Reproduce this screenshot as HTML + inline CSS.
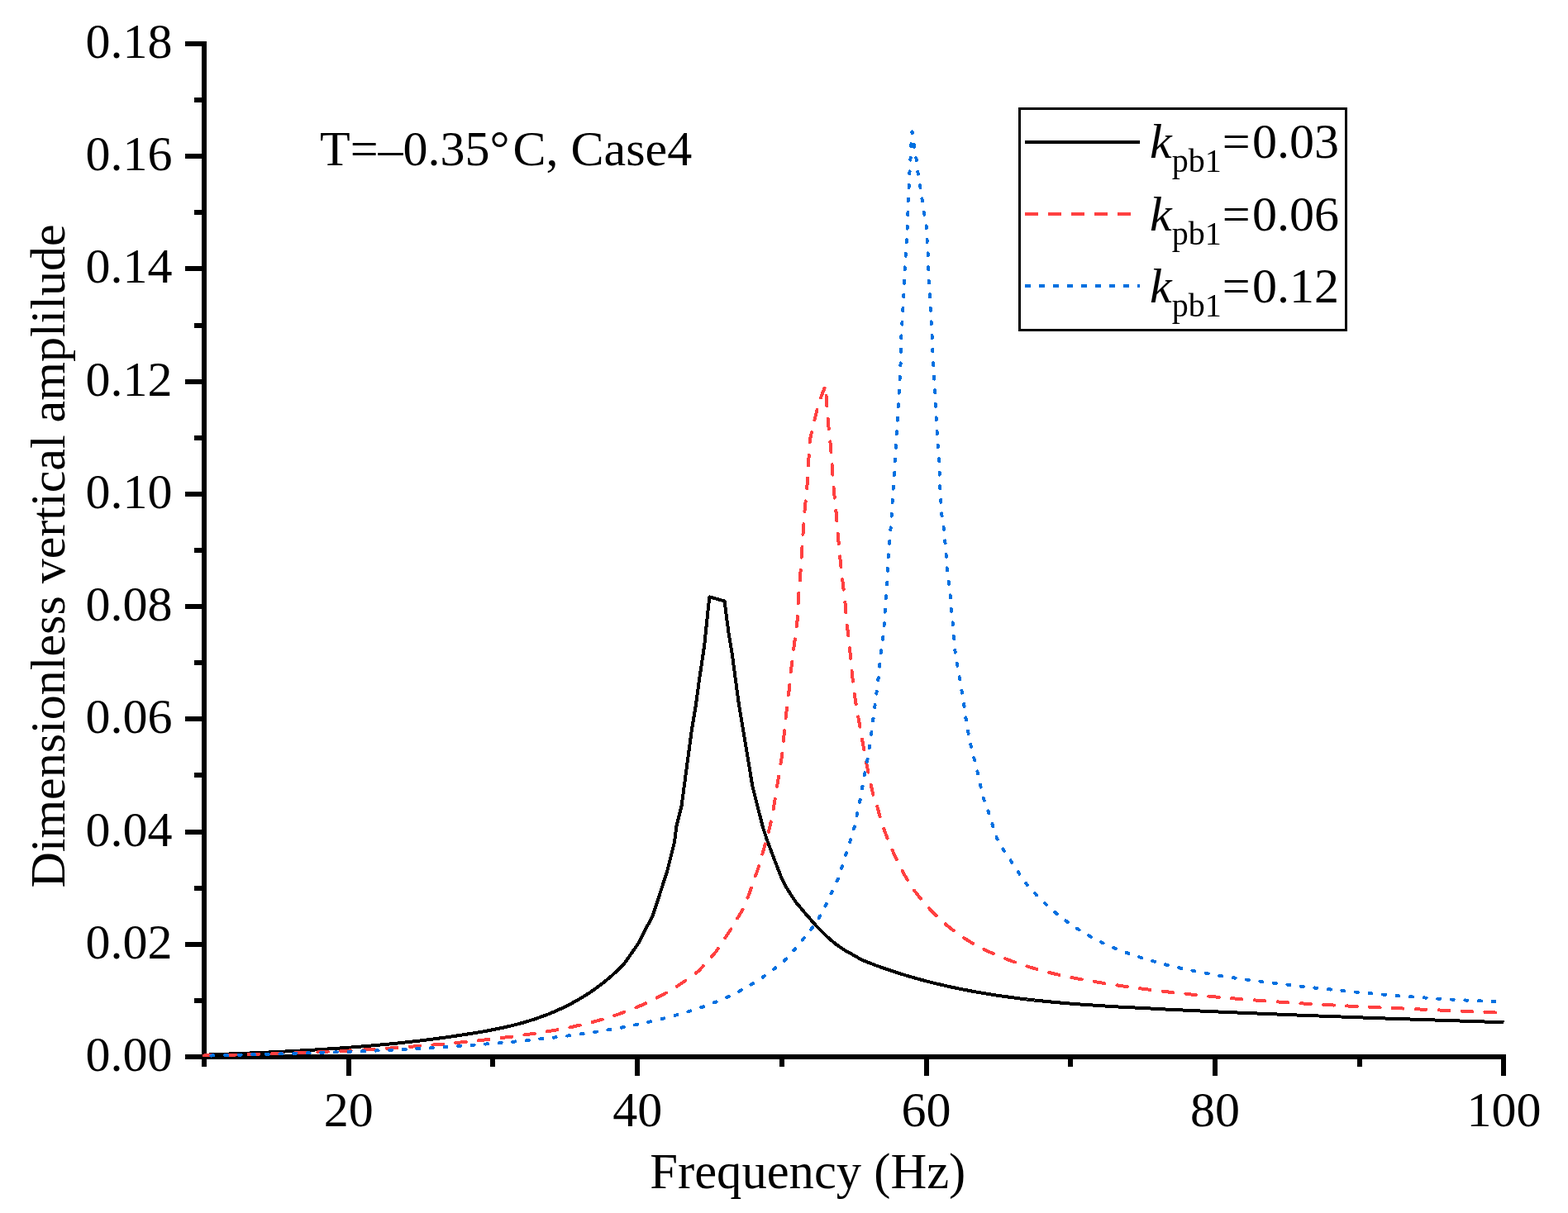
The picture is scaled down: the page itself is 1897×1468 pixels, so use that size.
<!DOCTYPE html>
<html><head><meta charset="utf-8"><title>Frequency response</title>
<style>html,body{margin:0;padding:0;background:#fff;}svg{display:block;}</style>
</head><body>
<svg width="1897" height="1468" viewBox="0 0 1897 1468"><rect x="244" y="50" width="6" height="1232" fill="#000"/>
<rect x="244" y="1276" width="1578" height="6" fill="#000"/>
<rect x="224" y="1276" width="20" height="6" fill="#000"/>
<text x="208.5" y="1296.0" text-anchor="end" font-family="'Liberation Serif', 'Times New Roman', serif" font-size="60">0.00</text>
<rect x="235" y="1208" width="9" height="6" fill="#000"/>
<rect x="224" y="1140" width="20" height="6" fill="#000"/>
<text x="208.5" y="1159.8" text-anchor="end" font-family="'Liberation Serif', 'Times New Roman', serif" font-size="60">0.02</text>
<rect x="235" y="1072" width="9" height="6" fill="#000"/>
<rect x="224" y="1004" width="20" height="6" fill="#000"/>
<text x="208.5" y="1023.6" text-anchor="end" font-family="'Liberation Serif', 'Times New Roman', serif" font-size="60">0.04</text>
<rect x="235" y="935" width="9" height="6" fill="#000"/>
<rect x="224" y="867" width="20" height="6" fill="#000"/>
<text x="208.5" y="887.3" text-anchor="end" font-family="'Liberation Serif', 'Times New Roman', serif" font-size="60">0.06</text>
<rect x="235" y="799" width="9" height="6" fill="#000"/>
<rect x="224" y="731" width="20" height="6" fill="#000"/>
<text x="208.5" y="751.1" text-anchor="end" font-family="'Liberation Serif', 'Times New Roman', serif" font-size="60">0.08</text>
<rect x="235" y="663" width="9" height="6" fill="#000"/>
<rect x="224" y="595" width="20" height="6" fill="#000"/>
<text x="208.5" y="614.9" text-anchor="end" font-family="'Liberation Serif', 'Times New Roman', serif" font-size="60">0.10</text>
<rect x="235" y="527" width="9" height="6" fill="#000"/>
<rect x="224" y="459" width="20" height="6" fill="#000"/>
<text x="208.5" y="478.7" text-anchor="end" font-family="'Liberation Serif', 'Times New Roman', serif" font-size="60">0.12</text>
<rect x="235" y="391" width="9" height="6" fill="#000"/>
<rect x="224" y="322" width="20" height="6" fill="#000"/>
<text x="208.5" y="342.4" text-anchor="end" font-family="'Liberation Serif', 'Times New Roman', serif" font-size="60">0.14</text>
<rect x="235" y="254" width="9" height="6" fill="#000"/>
<rect x="224" y="186" width="20" height="6" fill="#000"/>
<text x="208.5" y="206.2" text-anchor="end" font-family="'Liberation Serif', 'Times New Roman', serif" font-size="60">0.16</text>
<rect x="235" y="118" width="9" height="6" fill="#000"/>
<rect x="224" y="50" width="20" height="6" fill="#000"/>
<text x="208.5" y="70.0" text-anchor="end" font-family="'Liberation Serif', 'Times New Roman', serif" font-size="60">0.18</text>
<rect x="244" y="1282" width="6" height="9" fill="#000"/>
<rect x="419" y="1282" width="6" height="20" fill="#000"/>
<text x="421.7" y="1363" text-anchor="middle" font-family="'Liberation Serif', 'Times New Roman', serif" font-size="60">20</text>
<rect x="593" y="1282" width="6" height="9" fill="#000"/>
<rect x="768" y="1282" width="6" height="20" fill="#000"/>
<text x="771.2" y="1363" text-anchor="middle" font-family="'Liberation Serif', 'Times New Roman', serif" font-size="60">40</text>
<rect x="943" y="1282" width="6" height="9" fill="#000"/>
<rect x="1118" y="1282" width="6" height="20" fill="#000"/>
<text x="1120.6" y="1363" text-anchor="middle" font-family="'Liberation Serif', 'Times New Roman', serif" font-size="60">60</text>
<rect x="1292" y="1282" width="6" height="9" fill="#000"/>
<rect x="1467" y="1282" width="6" height="20" fill="#000"/>
<text x="1470.1" y="1363" text-anchor="middle" font-family="'Liberation Serif', 'Times New Roman', serif" font-size="60">80</text>
<rect x="1642" y="1282" width="6" height="9" fill="#000"/>
<rect x="1816" y="1282" width="6" height="20" fill="#000"/>
<text x="1819.5" y="1363" text-anchor="middle" font-family="'Liberation Serif', 'Times New Roman', serif" font-size="60">100</text>
<polyline points="247.0,1276.7 250.0,1276.6 253.0,1276.5 256.0,1276.4 259.0,1276.3 261.9,1276.2 264.9,1276.0 267.9,1275.9 270.9,1275.8 273.9,1275.7 276.9,1275.5 279.9,1275.4 282.9,1275.3 285.9,1275.2 288.8,1275.1 291.8,1274.9 294.8,1274.8 297.8,1274.7 300.8,1274.6 303.8,1274.4 306.8,1274.3 309.8,1274.2 312.8,1274.0 315.7,1273.9 318.7,1273.8 321.7,1273.6 324.7,1273.5 327.7,1273.3 330.7,1273.2 333.7,1273.1 336.7,1272.9 339.7,1272.8 342.6,1272.6 345.6,1272.5 348.6,1272.3 351.6,1272.1 354.6,1272.0 357.6,1271.8 360.6,1271.7 363.6,1271.5 366.6,1271.3 369.5,1271.2 372.5,1271.0 375.5,1270.8 378.5,1270.6 381.5,1270.5 384.5,1270.3 387.5,1270.1 390.5,1269.9 393.5,1269.7 396.4,1269.5 399.4,1269.3 402.4,1269.1 405.4,1268.9 408.4,1268.7 411.4,1268.5 414.4,1268.3 417.4,1268.1 420.4,1267.8 423.3,1267.6 426.3,1267.4 429.3,1267.1 432.3,1266.9 435.3,1266.7 438.3,1266.4 441.3,1266.2 444.3,1265.9 447.3,1265.7 450.2,1265.4 453.2,1265.1 456.2,1264.9 459.2,1264.6 462.2,1264.3 465.2,1264.0 468.2,1263.8 471.2,1263.5 474.2,1263.2 477.1,1262.9 480.1,1262.6 483.1,1262.3 486.1,1261.9 489.1,1261.6 492.1,1261.3 495.1,1261.0 498.1,1260.6 501.0,1260.3 504.0,1259.9 507.0,1259.6 510.0,1259.2 513.0,1258.9 516.0,1258.5 519.0,1258.1 522.0,1257.7 525.0,1257.4 527.9,1257.0 530.9,1256.6 533.9,1256.2 536.9,1255.8 539.9,1255.4 542.9,1254.9 545.9,1254.5 548.9,1254.1 551.9,1253.6 554.8,1253.2 557.8,1252.7 560.8,1252.3 563.8,1251.8 566.8,1251.3 569.8,1250.9 572.8,1250.4 575.8,1249.9 578.8,1249.4 581.7,1248.9 584.7,1248.4 587.7,1247.8 590.7,1247.3 593.7,1246.7 596.7,1246.1 599.7,1245.5 602.7,1244.9 605.7,1244.3 608.6,1243.7 611.6,1243.0 614.6,1242.3 617.6,1241.6 620.6,1240.9 623.6,1240.1 626.6,1239.3 629.6,1238.5 632.6,1237.7 635.5,1236.8 638.5,1235.9 641.5,1235.0 644.5,1234.1 647.5,1233.1 650.5,1232.1 653.5,1231.0 656.5,1229.9 659.5,1228.8 662.4,1227.7 665.4,1226.5 668.4,1225.2 671.4,1224.0 674.4,1222.6 677.4,1221.3 680.4,1219.9 683.4,1218.4 686.4,1217.0 689.3,1215.4 692.3,1213.9 695.3,1212.2 698.3,1210.6 701.3,1208.8 704.3,1207.1 707.3,1205.2 710.3,1203.3 713.3,1201.4 716.2,1199.4 719.2,1197.3 722.2,1195.1 725.2,1192.9 728.2,1190.6 731.2,1188.3 734.2,1185.8 737.2,1183.3 740.2,1180.7 743.1,1178.0 746.1,1175.3 749.1,1172.4 752.1,1169.5 755.1,1166.4 771.5,1143.0 789.9,1107.7 806.8,1055.6 816.0,1018.8 818.4,1000.0 824.5,975.8 828.6,945.2 832.7,914.5 836.8,883.9 841.9,853.2 846.0,822.6 852.1,781.7 858.3,722.4 876.5,727.4 881.7,767.4 885.8,791.9 889.9,822.6 894.0,853.2 898.1,877.8 902.2,902.3 906.3,926.8 910.3,951.3 916.5,975.8 922.6,1000.0 927.5,1015.2 936.0,1038.1 944.9,1060.9 952.3,1075.6 962.9,1092.0 976.8,1108.3 988.3,1121.4 1000.5,1133.5 1010.5,1142.1 1021.1,1149.5 1031.6,1155.3 1042.2,1161.5 1045.2,1162.7 1048.2,1163.9 1051.2,1165.1 1054.2,1166.2 1057.1,1167.4 1060.1,1168.5 1063.1,1169.6 1066.1,1170.6 1069.1,1171.7 1072.1,1172.7 1075.1,1173.7 1078.1,1174.8 1081.1,1175.7 1084.1,1176.7 1087.0,1177.7 1090.0,1178.6 1093.0,1179.5 1096.0,1180.5 1099.0,1181.3 1102.0,1182.2 1105.0,1183.1 1108.0,1183.9 1111.0,1184.8 1114.0,1185.6 1116.9,1186.4 1119.9,1187.2 1122.9,1188.0 1125.9,1188.7 1128.9,1189.5 1131.9,1190.2 1134.9,1190.9 1137.9,1191.6 1140.9,1192.3 1143.8,1193.0 1146.8,1193.7 1149.8,1194.3 1152.8,1195.0 1155.8,1195.6 1158.8,1196.2 1161.8,1196.9 1164.8,1197.5 1167.8,1198.0 1170.8,1198.6 1173.7,1199.2 1176.7,1199.7 1179.7,1200.3 1182.7,1200.8 1185.7,1201.3 1188.7,1201.8 1191.7,1202.3 1194.7,1202.8 1197.7,1203.3 1200.6,1203.8 1203.6,1204.3 1206.6,1204.7 1209.6,1205.1 1212.6,1205.6 1215.6,1206.0 1218.6,1206.4 1221.6,1206.8 1224.6,1207.2 1227.6,1207.6 1230.5,1208.0 1233.5,1208.4 1236.5,1208.8 1239.5,1209.1 1242.5,1209.5 1245.5,1209.8 1248.5,1210.1 1251.5,1210.5 1254.5,1210.8 1257.5,1211.1 1260.4,1211.4 1263.4,1211.7 1266.4,1212.0 1269.4,1212.3 1272.4,1212.6 1275.4,1212.9 1278.4,1213.2 1281.4,1213.4 1284.4,1213.7 1287.3,1213.9 1290.3,1214.2 1293.3,1214.4 1296.3,1214.7 1299.3,1214.9 1302.3,1215.1 1305.3,1215.4 1308.3,1215.6 1311.3,1215.8 1314.3,1216.0 1317.2,1216.2 1320.2,1216.4 1323.2,1216.6 1326.2,1216.8 1329.2,1217.0 1332.2,1217.2 1335.2,1217.4 1338.2,1217.6 1341.2,1217.8 1344.2,1217.9 1347.1,1218.1 1350.1,1218.3 1353.1,1218.5 1356.1,1218.6 1359.1,1218.8 1362.1,1219.0 1365.1,1219.1 1368.1,1219.3 1371.1,1219.4 1374.0,1219.6 1377.0,1219.8 1380.0,1219.9 1383.0,1220.1 1386.0,1220.2 1389.0,1220.4 1392.0,1220.5 1395.0,1220.7 1398.0,1220.9 1401.0,1221.0 1403.9,1221.2 1406.9,1221.3 1409.9,1221.5 1412.9,1221.6 1415.9,1221.8 1418.9,1221.9 1421.9,1222.0 1424.9,1222.2 1427.9,1222.3 1430.8,1222.5 1433.8,1222.6 1436.8,1222.8 1439.8,1222.9 1442.8,1223.1 1445.8,1223.2 1448.8,1223.3 1451.8,1223.5 1454.8,1223.6 1457.8,1223.8 1460.7,1223.9 1463.7,1224.0 1466.7,1224.2 1469.7,1224.3 1472.7,1224.4 1475.7,1224.6 1478.7,1224.7 1481.7,1224.8 1484.7,1225.0 1487.7,1225.1 1490.6,1225.2 1493.6,1225.4 1496.6,1225.5 1499.6,1225.6 1502.6,1225.8 1505.6,1225.9 1508.6,1226.0 1511.6,1226.1 1514.6,1226.3 1517.5,1226.4 1520.5,1226.5 1523.5,1226.6 1526.5,1226.8 1529.5,1226.9 1532.5,1227.0 1535.5,1227.1 1538.5,1227.3 1541.5,1227.4 1544.5,1227.5 1547.4,1227.6 1550.4,1227.7 1553.4,1227.9 1556.4,1228.0 1559.4,1228.1 1562.4,1228.2 1565.4,1228.3 1568.4,1228.5 1571.4,1228.6 1574.4,1228.7 1577.3,1228.8 1580.3,1228.9 1583.3,1229.0 1586.3,1229.2 1589.3,1229.3 1592.3,1229.4 1595.3,1229.5 1598.3,1229.6 1601.3,1229.7 1604.2,1229.8 1607.2,1230.0 1610.2,1230.1 1613.2,1230.2 1616.2,1230.3 1619.2,1230.4 1622.2,1230.5 1625.2,1230.6 1628.2,1230.7 1631.2,1230.8 1634.1,1231.0 1637.1,1231.1 1640.1,1231.2 1643.1,1231.3 1646.1,1231.4 1649.1,1231.5 1652.1,1231.6 1655.1,1231.7 1658.1,1231.8 1661.0,1231.9 1664.0,1232.0 1667.0,1232.1 1670.0,1232.2 1673.0,1232.3 1676.0,1232.5 1679.0,1232.6 1682.0,1232.7 1685.0,1232.8 1688.0,1232.9 1690.9,1233.0 1693.9,1233.1 1696.9,1233.2 1699.9,1233.3 1702.9,1233.4 1705.9,1233.5 1708.9,1233.6 1711.9,1233.7 1714.9,1233.8 1717.9,1233.9 1720.8,1234.0 1723.8,1234.1 1726.8,1234.2 1729.8,1234.3 1732.8,1234.4 1735.8,1234.5 1738.8,1234.6 1741.8,1234.7 1744.8,1234.8 1747.7,1234.9 1750.7,1235.0 1753.7,1235.1 1756.7,1235.2 1759.7,1235.3 1762.7,1235.4 1765.7,1235.5 1768.7,1235.6 1771.7,1235.7 1774.7,1235.8 1777.6,1235.9 1780.6,1236.0 1783.6,1236.1 1786.6,1236.2 1789.6,1236.3 1792.6,1236.4 1795.6,1236.5 1798.6,1236.6 1801.6,1236.7 1804.6,1236.8 1807.5,1236.9 1810.5,1237.0 1813.5,1237.1 1816.5,1237.2 1819.5,1237.3" fill="none" stroke="#000" stroke-width="4" stroke-linejoin="round" shape-rendering="crispEdges" />
<polyline points="247.0,1277.4 250.0,1277.3 253.0,1277.3 256.0,1277.2 259.0,1277.1 262.0,1277.1 265.0,1277.0 267.9,1276.9 270.9,1276.9 273.9,1276.8 276.9,1276.7 279.9,1276.7 282.9,1276.6 285.9,1276.5 288.9,1276.4 291.9,1276.4 294.9,1276.3 297.9,1276.2 300.9,1276.1 303.9,1276.0 306.8,1276.0 309.8,1275.9 312.8,1275.8 315.8,1275.7 318.8,1275.6 321.8,1275.5 324.8,1275.4 327.8,1275.3 330.8,1275.2 333.8,1275.2 336.8,1275.0 339.8,1275.0 342.8,1274.9 345.8,1274.7 348.7,1274.6 351.7,1274.5 354.7,1274.4 357.7,1274.3 360.7,1274.2 363.7,1274.1 366.7,1274.0 369.7,1273.9 372.7,1273.7 375.7,1273.6 378.7,1273.5 381.7,1273.4 384.7,1273.3 387.6,1273.1 390.6,1273.0 393.6,1272.9 396.6,1272.7 399.6,1272.6 402.6,1272.4 405.6,1272.3 408.6,1272.2 411.6,1272.0 414.6,1271.9 417.6,1271.7 420.6,1271.6 423.6,1271.4 426.5,1271.2 429.5,1271.1 432.5,1270.9 435.5,1270.8 438.5,1270.6 441.5,1270.4 444.5,1270.2 447.5,1270.1 450.5,1269.9 453.5,1269.7 456.5,1269.5 459.5,1269.3 462.5,1269.1 465.5,1268.9 468.4,1268.7 471.4,1268.6 474.4,1268.3 477.4,1268.1 480.4,1267.9 483.4,1267.7 486.4,1267.5 489.4,1267.3 492.4,1267.1 495.4,1266.8 498.4,1266.6 501.4,1266.4 504.4,1266.2 507.3,1265.9 510.3,1265.7 513.3,1265.4 516.3,1265.2 519.3,1264.9 522.3,1264.7 525.3,1264.4 528.3,1264.2 531.3,1263.9 534.3,1263.6 537.3,1263.4 540.3,1263.1 543.3,1262.8 546.3,1262.6 549.2,1262.3 552.2,1262.0 555.2,1261.7 558.2,1261.4 561.2,1261.1 564.2,1260.8 567.2,1260.5 570.2,1260.2 573.2,1259.9 576.2,1259.5 579.2,1259.2 582.2,1258.9 585.2,1258.6 588.1,1258.2 591.1,1257.9 594.1,1257.5 597.1,1257.2 600.1,1256.9 603.1,1256.5 606.1,1256.1 609.1,1255.8 612.1,1255.4 615.1,1255.0 618.1,1254.7 621.1,1254.3 624.1,1253.9 627.0,1253.5 630.0,1253.1 633.0,1252.7 636.0,1252.3 639.0,1251.9 642.0,1251.4 645.0,1251.0 648.0,1250.6 651.0,1250.1 654.0,1249.7 657.0,1249.2 660.0,1248.7 663.0,1248.2 666.0,1247.7 668.9,1247.2 671.9,1246.7 674.9,1246.1 677.9,1245.6 680.9,1245.0 683.9,1244.4 686.9,1243.8 689.9,1243.2 692.9,1242.6 695.9,1241.9 698.9,1241.2 701.9,1240.6 704.9,1239.9 707.8,1239.1 710.8,1238.4 713.8,1237.6 716.8,1236.9 719.8,1236.1 722.8,1235.3 725.8,1234.4 728.8,1233.6 731.8,1232.7 734.8,1231.8 737.8,1230.9 740.8,1229.9 743.8,1228.9 746.7,1227.9 749.7,1226.9 752.7,1225.8 755.7,1224.7 758.7,1223.6 761.7,1222.5 764.7,1221.3 767.7,1220.1 770.7,1218.9 773.7,1217.6 776.7,1216.3 779.7,1214.9 782.7,1213.6 785.6,1212.1 788.6,1210.7 791.6,1209.2 794.6,1207.7 797.6,1206.1 800.6,1204.5 803.6,1202.8 806.6,1201.1 809.6,1199.4 812.6,1197.6 815.6,1195.8 818.6,1193.9 821.6,1192.0 824.6,1190.0 827.5,1188.0 830.5,1186.0 833.5,1183.9 836.5,1181.7 839.5,1179.5 842.5,1177.2 845.5,1174.9 865.8,1152.3 883.8,1125.3 900.0,1098.5 907.4,1078.9 917.2,1051.1 925.3,1023.3 931.9,998.8 936.8,972.7 941.7,941.6 945.8,916.5 948.5,889.9 951.2,863.4 954.7,835.0 957.3,808.5 960.9,780.2 964.4,753.6 966.2,720.0 967.7,705.1 969.6,674.6 971.5,646.0 973.4,619.3 976.3,590.6 978.2,558.2 980.1,531.5 983.9,514.4 990.6,487.7 998.6,466.7 1000.1,485.8 1002.0,512.5 1004.9,539.2 1006.8,565.9 1008.7,592.6 1011.5,619.3 1013.8,647.8 1016.3,674.6 1018.7,697.7 1022.2,726.3 1024.6,754.9 1027.7,781.1 1030.1,807.3 1033.0,835.9 1037.3,862.2 1042.0,888.4 1046.8,917.0 1052.4,944.0 1057.7,967.8 1059.4,969.4 1066.8,996.4 1076.0,1020.9 1087.6,1046.7 1101.1,1070.9 1104.1,1075.0 1107.1,1079.0 1110.1,1082.8 1113.1,1086.6 1116.1,1090.2 1119.1,1093.7 1122.1,1097.0 1125.0,1100.3 1128.0,1103.5 1131.0,1106.5 1134.0,1109.4 1137.0,1112.3 1140.0,1115.0 1143.0,1117.6 1146.0,1120.2 1149.0,1122.6 1152.0,1125.0 1155.0,1127.3 1158.0,1129.5 1161.0,1131.6 1164.0,1133.7 1167.0,1135.6 1169.9,1137.5 1172.9,1139.4 1175.9,1141.1 1178.9,1142.9 1181.9,1144.5 1184.9,1146.1 1187.9,1147.6 1190.9,1149.1 1193.9,1150.6 1196.9,1152.0 1199.9,1153.3 1202.9,1154.7 1205.9,1156.0 1208.9,1157.2 1211.9,1158.4 1214.8,1159.6 1217.8,1160.8 1220.8,1162.0 1223.8,1163.1 1226.8,1164.1 1229.8,1165.2 1232.8,1166.2 1235.8,1167.2 1238.8,1168.2 1241.8,1169.2 1244.8,1170.1 1247.8,1171.0 1250.8,1171.9 1253.8,1172.8 1256.8,1173.6 1259.7,1174.4 1262.7,1175.3 1265.7,1176.0 1268.7,1176.8 1271.7,1177.5 1274.7,1178.3 1277.7,1179.0 1280.7,1179.7 1283.7,1180.3 1286.7,1181.0 1289.7,1181.6 1292.7,1182.3 1295.7,1182.9 1298.7,1183.5 1301.7,1184.1 1304.6,1184.6 1307.6,1185.2 1310.6,1185.8 1313.6,1186.3 1316.6,1186.8 1319.6,1187.3 1322.6,1187.8 1325.6,1188.3 1328.6,1188.8 1331.6,1189.3 1334.6,1189.8 1337.6,1190.3 1340.6,1190.7 1343.6,1191.2 1346.6,1191.6 1349.5,1192.1 1352.5,1192.5 1355.5,1192.9 1358.5,1193.4 1361.5,1193.8 1364.5,1194.2 1367.5,1194.6 1370.5,1195.1 1373.5,1195.5 1376.5,1195.9 1379.5,1196.3 1382.5,1196.7 1385.5,1197.0 1388.5,1197.4 1391.5,1197.8 1394.4,1198.2 1397.4,1198.6 1400.4,1198.9 1403.4,1199.3 1406.4,1199.7 1409.4,1200.0 1412.4,1200.4 1415.4,1200.7 1418.4,1201.0 1421.4,1201.4 1424.4,1201.7 1427.4,1202.1 1430.4,1202.4 1433.4,1202.7 1436.4,1203.0 1439.3,1203.3 1442.3,1203.7 1445.3,1204.0 1448.3,1204.3 1451.3,1204.6 1454.3,1204.9 1457.3,1205.2 1460.3,1205.5 1463.3,1205.7 1466.3,1206.0 1469.3,1206.3 1472.3,1206.6 1475.3,1206.9 1478.3,1207.1 1481.3,1207.4 1484.2,1207.7 1487.2,1207.9 1490.2,1208.2 1493.2,1208.4 1496.2,1208.7 1499.2,1208.9 1502.2,1209.2 1505.2,1209.4 1508.2,1209.7 1511.2,1209.9 1514.2,1210.1 1517.2,1210.4 1520.2,1210.6 1523.2,1210.8 1526.2,1211.0 1529.1,1211.3 1532.1,1211.5 1535.1,1211.7 1538.1,1211.9 1541.1,1212.1 1544.1,1212.3 1547.1,1212.5 1550.1,1212.7 1553.1,1212.9 1556.1,1213.1 1559.1,1213.3 1562.1,1213.5 1565.1,1213.7 1568.1,1213.9 1571.1,1214.1 1574.0,1214.3 1577.0,1214.5 1580.0,1214.6 1583.0,1214.8 1586.0,1215.0 1589.0,1215.2 1592.0,1215.3 1595.0,1215.5 1598.0,1215.7 1601.0,1215.9 1604.0,1216.0 1607.0,1216.2 1610.0,1216.4 1613.0,1216.5 1616.0,1216.7 1618.9,1216.8 1621.9,1217.0 1624.9,1217.1 1627.9,1217.3 1630.9,1217.5 1633.9,1217.6 1636.9,1217.8 1639.9,1217.9 1642.9,1218.1 1645.9,1218.2 1648.9,1218.3 1651.9,1218.5 1654.9,1218.6 1657.9,1218.8 1660.9,1218.9 1663.8,1219.1 1666.8,1219.2 1669.8,1219.3 1672.8,1219.5 1675.8,1219.6 1678.8,1219.7 1681.8,1219.9 1684.8,1220.0 1687.8,1220.1 1690.8,1220.3 1693.8,1220.4 1696.8,1220.5 1699.8,1220.7 1702.8,1220.8 1705.8,1220.9 1708.7,1221.1 1711.7,1221.2 1714.7,1221.3 1717.7,1221.5 1720.7,1221.6 1723.7,1221.7 1726.7,1221.8 1729.7,1222.0 1732.7,1222.1 1735.7,1222.2 1738.7,1222.4 1741.7,1222.5 1744.7,1222.6 1747.7,1222.7 1750.7,1222.9 1753.6,1223.0 1756.6,1223.1 1759.6,1223.3 1762.6,1223.4 1765.6,1223.5 1768.6,1223.7 1771.6,1223.8 1774.6,1223.9 1777.6,1224.0 1780.6,1224.2 1783.6,1224.3 1786.6,1224.4 1789.6,1224.6 1792.6,1224.7 1795.6,1224.9 1798.5,1225.0 1801.5,1225.1 1804.5,1225.3 1807.5,1225.4 1810.5,1225.5 1813.5,1225.7 1816.5,1225.8 1819.5,1226.0" fill="none" stroke="#ff4040" stroke-width="4" stroke-linejoin="round" shape-rendering="crispEdges" stroke-dasharray="12.6 15.3" stroke-linecap="round" stroke-dashoffset="-25.76"/>
<polyline points="247.0,1277.8 250.0,1277.7 253.0,1277.6 256.0,1277.5 259.0,1277.4 262.0,1277.4 264.9,1277.3 267.9,1277.2 270.9,1277.1 273.9,1277.1 276.9,1277.0 279.9,1276.9 282.9,1276.8 285.9,1276.8 288.9,1276.7 291.9,1276.6 294.8,1276.5 297.8,1276.5 300.8,1276.4 303.8,1276.3 306.8,1276.2 309.8,1276.2 312.8,1276.1 315.8,1276.0 318.8,1275.9 321.8,1275.9 324.8,1275.8 327.7,1275.7 330.7,1275.6 333.7,1275.5 336.7,1275.5 339.7,1275.4 342.7,1275.3 345.7,1275.2 348.7,1275.1 351.7,1275.0 354.7,1275.0 357.7,1274.9 360.6,1274.8 363.6,1274.7 366.6,1274.6 369.6,1274.5 372.6,1274.4 375.6,1274.3 378.6,1274.3 381.6,1274.2 384.6,1274.1 387.6,1274.0 390.6,1273.9 393.5,1273.8 396.5,1273.7 399.5,1273.6 402.5,1273.5 405.5,1273.4 408.5,1273.3 411.5,1273.2 414.5,1273.1 417.5,1273.0 420.5,1272.9 423.4,1272.8 426.4,1272.6 429.4,1272.5 432.4,1272.4 435.4,1272.3 438.4,1272.2 441.4,1272.1 444.4,1271.9 447.4,1271.8 450.4,1271.7 453.4,1271.6 456.3,1271.4 459.3,1271.3 462.3,1271.2 465.3,1271.1 468.3,1270.9 471.3,1270.8 474.3,1270.6 477.3,1270.5 480.3,1270.4 483.3,1270.2 486.3,1270.1 489.2,1269.9 492.2,1269.8 495.2,1269.6 498.2,1269.4 501.2,1269.3 504.2,1269.1 507.2,1269.0 510.2,1268.8 513.2,1268.6 516.2,1268.5 519.1,1268.3 522.1,1268.1 525.1,1267.9 528.1,1267.7 531.1,1267.6 534.1,1267.4 537.1,1267.2 540.1,1267.0 543.1,1266.8 546.1,1266.6 549.1,1266.4 552.0,1266.2 555.0,1266.0 558.0,1265.8 561.0,1265.6 564.0,1265.4 567.0,1265.1 570.0,1264.9 573.0,1264.7 576.0,1264.5 579.0,1264.2 582.0,1264.0 584.9,1263.8 587.9,1263.5 590.9,1263.3 593.9,1263.0 596.9,1262.8 599.9,1262.5 602.9,1262.3 605.9,1262.0 608.9,1261.8 611.9,1261.5 614.8,1261.2 617.8,1261.0 620.8,1260.7 623.8,1260.4 626.8,1260.1 629.8,1259.8 632.8,1259.5 635.8,1259.2 638.8,1258.9 641.8,1258.6 644.8,1258.3 647.7,1258.0 650.7,1257.7 653.7,1257.4 656.7,1257.0 659.7,1256.7 662.7,1256.4 665.7,1256.1 668.7,1255.7 671.7,1255.4 674.7,1255.0 677.7,1254.7 680.6,1254.3 683.6,1253.9 686.6,1253.6 689.6,1253.2 692.6,1252.8 695.6,1252.4 698.6,1252.0 701.6,1251.6 704.6,1251.2 707.6,1250.8 710.5,1250.3 713.5,1249.9 716.5,1249.5 719.5,1249.0 722.5,1248.5 725.5,1248.1 728.5,1247.6 731.5,1247.1 734.5,1246.6 737.5,1246.1 740.5,1245.6 743.4,1245.1 746.4,1244.6 749.4,1244.0 752.4,1243.5 755.4,1242.9 758.4,1242.3 761.4,1241.8 764.4,1241.2 767.4,1240.6 770.4,1239.9 773.4,1239.3 776.3,1238.7 779.3,1238.0 782.3,1237.4 785.3,1236.7 788.3,1236.0 791.3,1235.3 794.3,1234.6 797.3,1233.9 800.3,1233.1 803.3,1232.4 806.2,1231.6 809.2,1230.9 812.2,1230.1 815.2,1229.3 818.2,1228.4 821.2,1227.6 824.2,1226.8 827.2,1225.9 830.2,1225.0 833.2,1224.1 836.2,1223.2 839.1,1222.3 842.1,1221.3 845.1,1220.3 848.1,1219.3 851.1,1218.3 854.1,1217.2 857.1,1216.1 860.1,1215.0 863.1,1213.8 866.1,1212.6 869.1,1211.4 872.0,1210.2 875.0,1208.9 878.0,1207.6 881.0,1206.2 884.0,1204.8 887.0,1203.4 890.0,1201.9 893.0,1200.4 896.0,1198.8 899.0,1197.2 901.9,1195.6 904.9,1193.9 907.9,1192.1 910.9,1190.3 913.9,1188.5 916.9,1186.6 919.9,1184.6 922.9,1182.6 925.9,1180.6 928.9,1178.5 931.9,1176.3 934.8,1174.0 937.8,1171.7 940.8,1169.4 943.8,1166.9 946.8,1164.4 949.8,1161.9 961.3,1149.2 971.9,1136.1 983.3,1122.2 992.3,1108.3 1000.5,1092.8 1007.0,1078.1 1014.4,1062.6 1019.3,1047.0 1024.2,1031.5 1029.1,1016.0 1034.0,999.7 1037.3,983.3 1040.9,967.0 1043.8,949.8 1049.7,918.2 1054.4,886.0 1058.7,852.6 1062.8,819.2 1066.3,785.9 1068.7,769.2 1071.1,735.8 1073.5,702.4 1073.9,687.1 1074.9,670.8 1077.8,637.0 1079.8,604.4 1082.1,571.7 1083.9,539.0 1086.0,505.3 1088.0,471.5 1089.6,438.8 1090.5,406.2 1091.5,390.0 1092.4,372.8 1093.4,356.6 1094.0,339.4 1094.7,323.2 1095.9,307.0 1096.8,290.8 1097.8,273.6 1098.5,256.4 1098.9,240.2 1099.7,224.0 1100.6,206.8 1101.6,190.6 1102.4,174.4 1103.5,159.5 1105.8,176.3 1108.7,193.4 1110.6,209.7 1113.4,225.9 1115.7,242.1 1118.2,258.3 1120.7,274.5 1121.6,291.7 1122.6,307.9 1123.0,324.2 1123.9,341.3 1124.9,357.6 1125.8,373.8 1126.8,391.0 1127.7,408.1 1129.1,440.9 1131.1,473.6 1132.6,506.3 1134.6,540.0 1136.0,556.3 1137.3,590.1 1139.3,622.8 1141.7,639.1 1143.4,655.5 1145.8,688.2 1148.1,705.9 1150.0,722.2 1150.8,738.6 1152.7,754.9 1154.1,771.3 1155.4,787.6 1158.1,804.0 1160.9,820.3 1163.6,836.7 1166.3,853.0 1168.5,869.4 1171.2,885.7 1174.5,902.1 1178.6,918.4 1182.7,934.8 1186.2,950.6 1189.8,965.9 1195.7,981.9 1200.7,998.0 1205.8,1013.8 1213.2,1027.4 1223.0,1041.9 1232.3,1056.0 1242.1,1070.3 1245.1,1073.7 1248.1,1077.0 1251.1,1080.2 1254.1,1083.3 1257.1,1086.3 1260.0,1089.3 1263.0,1092.1 1266.0,1094.9 1269.0,1097.7 1272.0,1100.3 1275.0,1102.9 1278.0,1105.4 1281.0,1107.8 1284.0,1110.2 1287.0,1112.5 1290.0,1114.7 1293.0,1116.9 1296.0,1119.0 1298.9,1121.1 1301.9,1123.0 1304.9,1125.0 1307.9,1126.8 1310.9,1128.7 1313.9,1130.4 1316.9,1132.1 1319.9,1133.8 1322.9,1135.4 1325.9,1137.0 1328.9,1138.5 1331.9,1140.0 1334.8,1141.4 1337.8,1142.8 1340.8,1144.1 1343.8,1145.5 1346.8,1146.7 1349.8,1148.0 1352.8,1149.2 1355.8,1150.3 1358.8,1151.5 1361.8,1152.6 1364.8,1153.7 1367.8,1154.7 1370.7,1155.7 1373.7,1156.7 1376.7,1157.7 1379.7,1158.7 1382.7,1159.6 1385.7,1160.5 1388.7,1161.4 1391.7,1162.3 1394.7,1163.2 1397.7,1164.0 1400.7,1164.8 1403.7,1165.6 1406.6,1166.4 1409.6,1167.2 1412.6,1168.0 1415.6,1168.7 1418.6,1169.5 1421.6,1170.2 1424.6,1170.9 1427.6,1171.5 1430.6,1172.2 1433.6,1172.9 1436.6,1173.5 1439.6,1174.1 1442.5,1174.8 1445.5,1175.4 1448.5,1176.0 1451.5,1176.5 1454.5,1177.1 1457.5,1177.7 1460.5,1178.2 1463.5,1178.7 1466.5,1179.3 1469.5,1179.8 1472.5,1180.3 1475.5,1180.8 1478.4,1181.2 1481.4,1181.7 1484.4,1182.2 1487.4,1182.6 1490.4,1183.1 1493.4,1183.5 1496.4,1184.0 1499.4,1184.4 1502.4,1184.8 1505.4,1185.2 1508.4,1185.6 1511.4,1186.0 1514.3,1186.4 1517.3,1186.8 1520.3,1187.2 1523.3,1187.6 1526.3,1188.0 1529.3,1188.4 1532.3,1188.7 1535.3,1189.1 1538.3,1189.5 1541.3,1189.8 1544.3,1190.2 1547.3,1190.5 1550.2,1190.9 1553.2,1191.2 1556.2,1191.6 1559.2,1191.9 1562.2,1192.3 1565.2,1192.6 1568.2,1193.0 1571.2,1193.3 1574.2,1193.7 1577.2,1194.0 1580.2,1194.3 1583.2,1194.7 1586.1,1195.0 1589.1,1195.3 1592.1,1195.7 1595.1,1196.0 1598.1,1196.3 1601.1,1196.6 1604.1,1196.9 1607.1,1197.2 1610.1,1197.6 1613.1,1197.9 1616.1,1198.2 1619.1,1198.5 1622.0,1198.8 1625.0,1199.1 1628.0,1199.4 1631.0,1199.7 1634.0,1200.0 1637.0,1200.3 1640.0,1200.6 1643.0,1200.8 1646.0,1201.1 1649.0,1201.4 1652.0,1201.7 1655.0,1202.0 1657.9,1202.2 1660.9,1202.5 1663.9,1202.8 1666.9,1203.0 1669.9,1203.3 1672.9,1203.6 1675.9,1203.8 1678.9,1204.1 1681.9,1204.3 1684.9,1204.6 1687.9,1204.8 1690.9,1205.1 1693.8,1205.3 1696.8,1205.5 1699.8,1205.8 1702.8,1206.0 1705.8,1206.2 1708.8,1206.5 1711.8,1206.7 1714.8,1206.9 1717.8,1207.1 1720.8,1207.3 1723.8,1207.5 1726.8,1207.7 1729.7,1207.9 1732.7,1208.1 1735.7,1208.3 1738.7,1208.5 1741.7,1208.7 1744.7,1208.9 1747.7,1209.1 1750.7,1209.3 1753.7,1209.5 1756.7,1209.6 1759.7,1209.8 1762.7,1210.0 1765.6,1210.1 1768.6,1210.3 1771.6,1210.4 1774.6,1210.6 1777.6,1210.7 1780.6,1210.9 1783.6,1211.0 1786.6,1211.2 1789.6,1211.3 1792.6,1211.4 1795.6,1211.5 1798.6,1211.7 1801.5,1211.8 1804.5,1211.9 1807.5,1212.0 1810.5,1212.1 1813.5,1212.2 1816.5,1212.3 1819.5,1212.4" fill="none" stroke="#0070e0" stroke-width="4" stroke-linejoin="round" shape-rendering="crispEdges" stroke-dasharray="3 13.6" stroke-linecap="round" stroke-dashoffset="-8.50"/>
<text x="977.3" y="1438" text-anchor="middle" font-family="'Liberation Serif', 'Times New Roman', serif" font-size="60.6">Frequency (Hz)</text>
<text transform="translate(78,673) rotate(-90)" text-anchor="middle" font-family="'Liberation Serif', 'Times New Roman', serif" font-size="60">Dimensionless vertical amplilude</text>
<text x="387" y="199.5" font-family="'Liberation Serif', 'Times New Roman', serif" font-size="60">T=–0.35°<tspan dx="4">C, Case4</tspan></text>
<rect x="1233.5" y="131.5" width="395" height="268" fill="none" stroke="#000" stroke-width="3"/>
<line x1="1239.5" y1="172" x2="1379" y2="172" stroke="#000" stroke-width="4.4" shape-rendering="crispEdges"/>
<line x1="1239.5" y1="259" x2="1369" y2="259" stroke="#ff4040" stroke-width="4.4" stroke-dasharray="16.3 11.85" shape-rendering="crispEdges"/>
<line x1="1239.5" y1="346" x2="1379" y2="346" stroke="#0070e0" stroke-width="4.4" stroke-dasharray="7.1 10" shape-rendering="crispEdges"/>
<text x="1391" y="191.3" font-family="'Liberation Serif', 'Times New Roman', serif" font-size="60"><tspan font-style="italic">k</tspan><tspan font-size="40" dy="17">pb1</tspan><tspan dy="-17" dx="1">=</tspan><tspan dx="2.5">0.03</tspan></text>
<text x="1391" y="278.5" font-family="'Liberation Serif', 'Times New Roman', serif" font-size="60"><tspan font-style="italic">k</tspan><tspan font-size="40" dy="17">pb1</tspan><tspan dy="-17" dx="1">=</tspan><tspan dx="2.5">0.06</tspan></text>
<text x="1391" y="365.7" font-family="'Liberation Serif', 'Times New Roman', serif" font-size="60"><tspan font-style="italic">k</tspan><tspan font-size="40" dy="17">pb1</tspan><tspan dy="-17" dx="1">=</tspan><tspan dx="2.5">0.12</tspan></text></svg>
</body></html>
